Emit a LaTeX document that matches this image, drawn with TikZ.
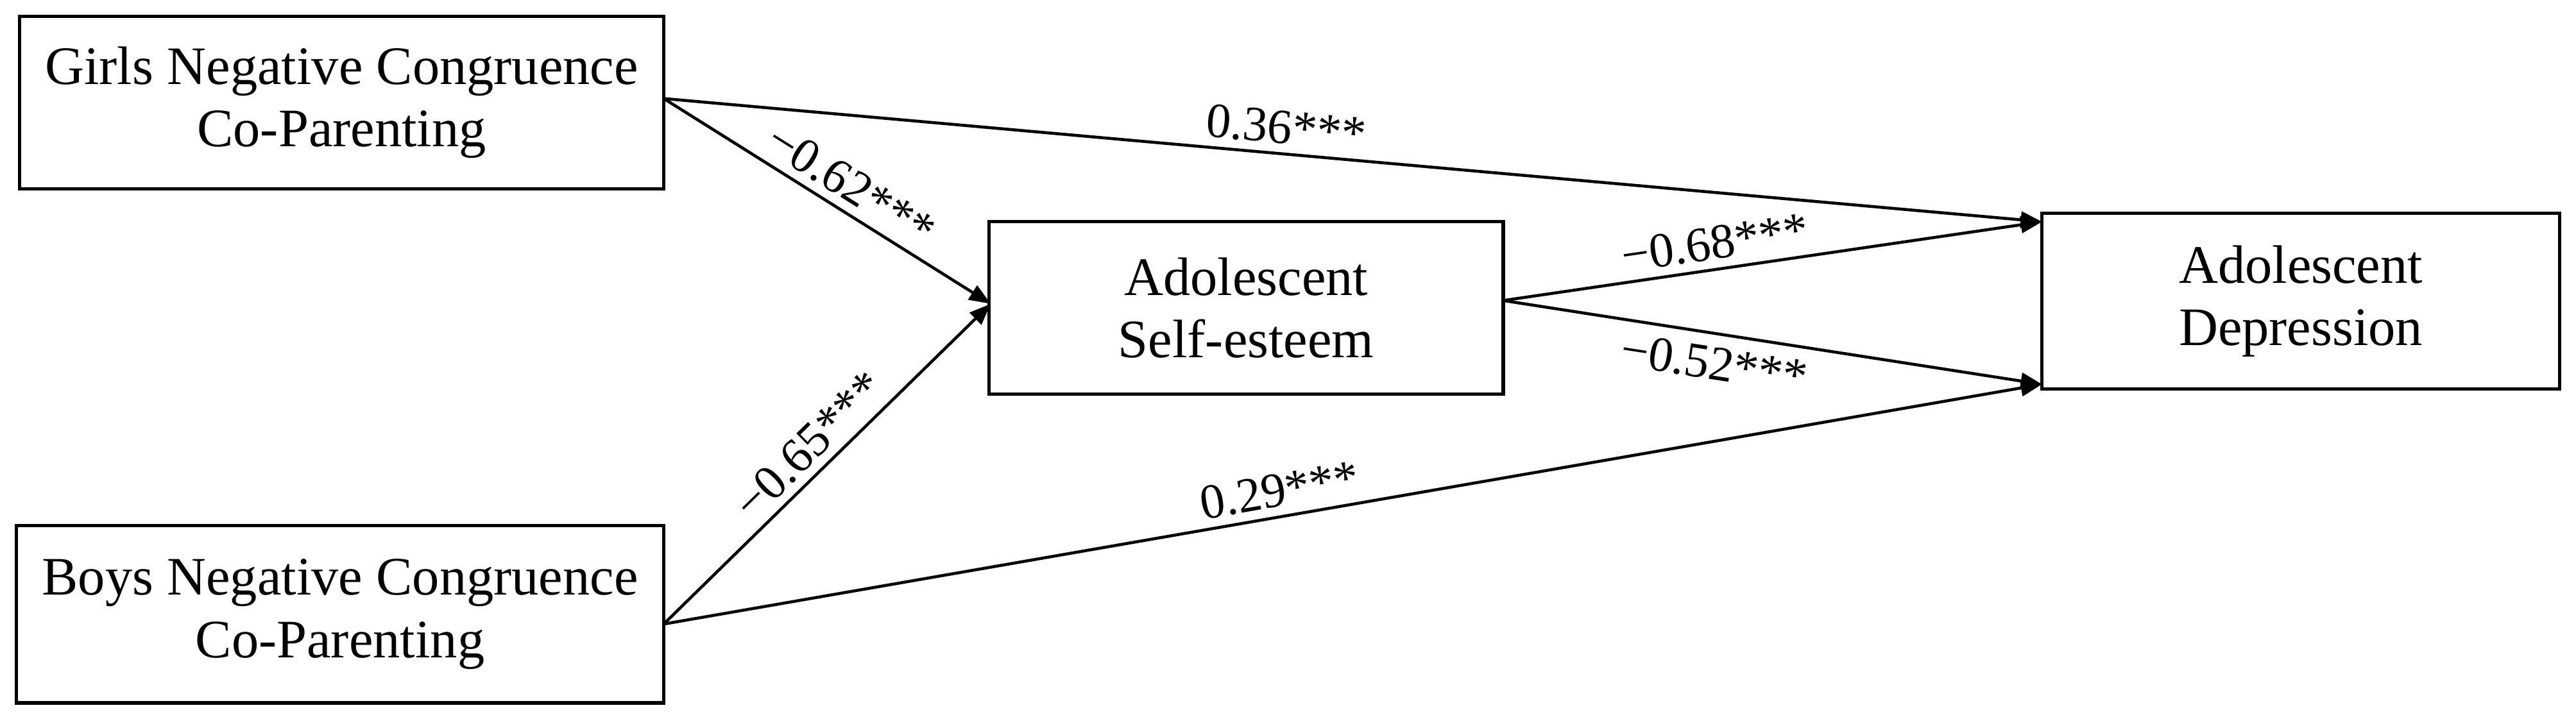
\documentclass[tikz,border=0pt]{standalone}
\usepackage{fontspec}
\setmainfont{Liberation Serif}
\usetikzlibrary{arrows.meta,calc}
\begin{document}
\begin{tikzpicture}[x=1pt,y=-1pt,
 box/.style={draw,line width=2pt,rectangle,inner sep=0pt,align=center,font=\fontsize{33}{38}\selectfont},
 arr/.style={line width=1.8pt,-{Triangle[length=13pt,width=10pt]}},
 lab/.style={font=\fontsize{30}{34}\selectfont,sloped,above,inner sep=5pt}]
\useasboundingbox (0,0) rectangle (1568,442);
\node[box,minimum width=392pt,minimum height=105pt] (g) at (208,62.5) {Girls Negative Congruence\\Co-Parenting};
\node[box,minimum width=394pt,minimum height=108pt] (b) at (207,374) {Boys Negative Congruence\\Co-Parenting};
\node[box,minimum width=313pt,minimum height=105pt] (s) at (758.5,187.5) {Adolescent\\Self-esteem};
\node[box,minimum width=315pt,minimum height=107pt] (d) at (1400.5,183.5) {Adolescent\\Depression};
\coordinate (gs) at (404,60);
\coordinate (bs) at (404,380);
\coordinate (d1) at (1243,135);
\coordinate (d2) at (1243,234);
\coordinate (si) at (603,185);
\coordinate (so) at (915,183);
\draw[arr] (gs) -- node[lab,pos=0.45]{0.36***} (d1);
\draw[arr] (gs) -- node[lab,pos=0.53]{−0.62***} (si);
\draw[arr] (bs) -- node[lab,pos=0.5]{−0.65***} (si);
\draw[arr] (bs) -- node[lab,pos=0.45]{0.29***} (d2);
\draw[arr] (so) -- node[lab,pos=0.4]{−0.68***} (d1);
\draw[arr] (so) -- node[lab,pos=0.4,below,yshift=-2pt]{−0.52***} (d2);
\end{tikzpicture}
\end{document}
